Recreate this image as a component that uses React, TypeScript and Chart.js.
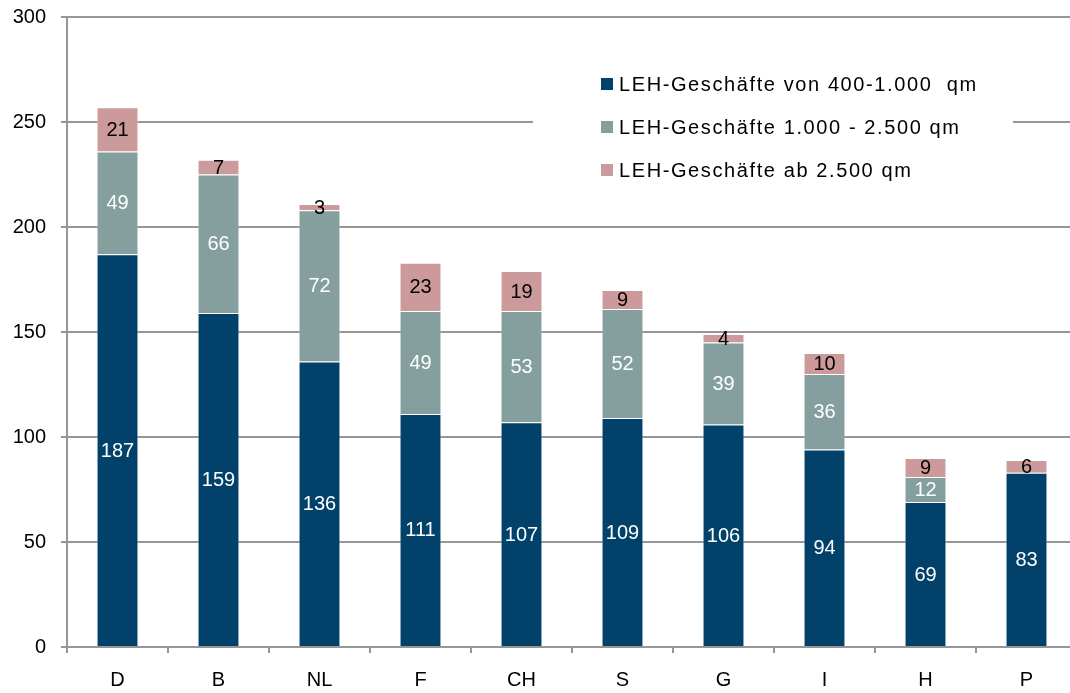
import React, { useEffect, useRef } from "react";
import { Chart, registerables } from "chart.js";

Chart.register(...registerables);

const categories = ["D", "B", "NL", "F", "CH", "S", "G", "I", "H", "P"];
const small = [187, 159, 136, 111, 107, 109, 106, 94, 69, 83];
const medium = [49, 66, 72, 49, 53, 52, 39, 36, 12, 0];
const large = [21, 7, 3, 23, 19, 9, 4, 10, 9, 6];
const seriesNames = [
  "LEH-Geschäfte von 400-1.000  qm",
  "LEH-Geschäfte 1.000 - 2.500 qm",
  "LEH-Geschäfte ab 2.500 qm",
];
const colors = ["#02416A", "#849F9D", "#CC9A9A"];
const labelColors = ["#FFFFFF", "#FFFFFF", "#000000"];
const yTicks = [0, 50, 100, 150, 200, 250, 300];

const FONT = "'Liberation Sans', Arial, sans-serif";

const valueLabels = {
  id: "valueLabels",
  afterDatasetsDraw(chart: any) {
    const ctx = chart.ctx;
    ctx.save();
    ctx.font = `20px ${FONT}`;
    ctx.textAlign = "center";
    ctx.textBaseline = "middle";
    chart.data.datasets.forEach((ds: any, di: number) => {
      const meta = chart.getDatasetMeta(di);
      meta.data.forEach((el: any, i: number) => {
        const v = ds.data[i];
        if (!v) return;
        const { x, y, base } = el.getProps(["x", "y", "base"], true);
        ctx.fillStyle = labelColors[di];
        ctx.fillText(String(v), x, (y + base) / 2 + 1);
      });
    });
    ctx.restore();
  },
};

const boxLegend = {
  id: "boxLegend",
  afterDraw(chart: any) {
    const ctx = chart.ctx;
    ctx.save();
    ctx.fillStyle = "#FFFFFF";
    ctx.fillRect(533, 55, 480, 140);
    ctx.font = `20px ${FONT}`;
    (ctx as any).letterSpacing = "1.6px";
    ctx.textAlign = "left";
    ctx.textBaseline = "middle";
    const rows = [84, 127, 170];
    seriesNames.forEach((name, i) => {
      ctx.fillStyle = colors[i];
      ctx.fillRect(601, rows[i] - 6, 12, 12);
      ctx.fillStyle = "#000000";
      ctx.fillText(name, 619, rows[i] + 1);
    });
    ctx.restore();
  },
};

export default function App() {
  const ref = useRef<HTMLCanvasElement>(null);
  useEffect(() => {
    document.body.style.margin = "0";
    document.body.style.overflow = "hidden";
    const mk = (data: number[], i: number) => ({
      label: seriesNames[i],
      data,
      backgroundColor: colors[i],
      borderColor: "rgba(255,255,255,0.35)",
      borderWidth: 1,
      barPercentage: 0.415,
      categoryPercentage: 1,
    });
    const chart = new Chart(ref.current!, {
      type: "bar",
      data: {
        labels: categories,
        datasets: [mk(small, 0), mk(medium, 1), mk(large, 2)],
      },
      options: {
        animation: false,
        responsive: false,
        devicePixelRatio: 1,
        layout: { padding: { top: 17, right: 3, left: 0, bottom: 0 } },
        plugins: { legend: { display: false }, tooltip: { enabled: false } },
        scales: {
          x: {
            stacked: true,
            offset: true,
            grid: {
              offset: true,
              drawOnChartArea: false,
              drawTicks: true,
              tickLength: 6,
              color: "#969696",
              lineWidth: 2,
            },
            border: { color: "#969696", width: 2 },
            ticks: { color: "#000", font: { family: FONT, size: 20 }, padding: 15 },
            afterFit: (s: any) => {
              s.height = 46;
              s.paddingLeft = 0;
              s.paddingRight = 0;
            },
          },
          y: {
            stacked: true,
            min: 0,
            max: 300,
            afterBuildTicks: (s: any) => {
              s.ticks = yTicks.map((v) => ({ value: v }));
            },
            grid: { color: "#969696", lineWidth: 2, tickLength: 6 },
            border: { color: "#969696", width: 2 },
            ticks: { color: "#000", font: { family: FONT, size: 20 }, padding: 15 },
            afterFit: (s: any) => {
              s.width = 67;
              s.paddingTop = 0;
              s.paddingBottom = 0;
            },
          },
        },
      },
      plugins: [valueLabels, boxLegend],
    });
    return () => chart.destroy();
  }, []);
  return (
    <div style={{ position: "relative", width: 1070, height: 693, overflow: "hidden" }}>
      <canvas ref={ref} width={1080} height={693} style={{ width: 1080, height: 693, display: "block" }} />
    </div>
  );
}
